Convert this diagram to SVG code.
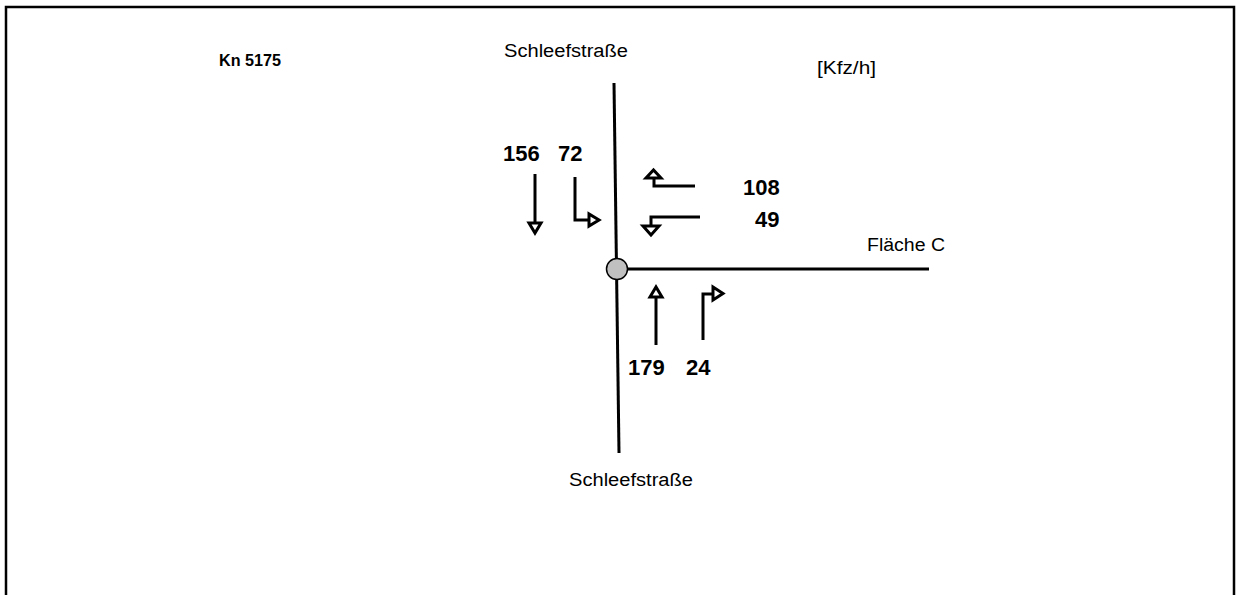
<svg xmlns="http://www.w3.org/2000/svg" width="1236" height="595" viewBox="0 0 1236 595">
<style>
.t{font-family:"Liberation Sans",Arial,sans-serif;font-size:18px;fill:#000}
.b{font-family:"Liberation Sans",Arial,sans-serif;font-size:22px;font-weight:bold;fill:#000}
.road{stroke:#000;stroke-width:3;fill:none}
.arr{stroke:#000;stroke-width:3;fill:none}
.head{stroke:#000;stroke-width:3;fill:#fff;stroke-linejoin:miter}
</style>
<rect width="1236" height="595" fill="#fff"/>
<path d="M6,596 V7 H1234 V596" fill="none" stroke="#000" stroke-width="2.5"/>
<text class="b" x="219" y="66" style="font-size:16px" textLength="62" lengthAdjust="spacingAndGlyphs">Kn 5175</text>
<text class="t" x="504" y="57" textLength="124" lengthAdjust="spacingAndGlyphs">Schleefstraße</text>
<text class="t" x="817" y="74" textLength="59" lengthAdjust="spacingAndGlyphs">[Kfz/h]</text>
<text class="t" x="867" y="251" textLength="78" lengthAdjust="spacingAndGlyphs">Fläche C</text>
<text class="t" x="569" y="486" textLength="124" lengthAdjust="spacingAndGlyphs">Schleefstraße</text>
<g id="roads">
<line class="road" x1="614" y1="83" x2="619" y2="453"/>
<line class="road" x1="627" y1="269" x2="929" y2="269"/>
</g>
<g id="node">
<circle cx="617" cy="269" r="10.5" fill="#c0c0c0" stroke="#000" stroke-width="1.5"/>
</g>
<g id="connectors">
<line class="arr" x1="535" y1="174" x2="535" y2="223"/>
<polygon class="head" points="529,223 541,223 535,233"/>
<polyline class="arr" points="575,177 575,220 589,220"/>
<polygon class="head" points="589,214 589,226 599,220"/>
<polyline class="arr" points="695,186 654,186 654,178"/>
<polygon class="head" points="646,178 661,178 653.5,170"/>
<polyline class="arr" points="700,217 651,217 651,226"/>
<polygon class="head" points="643,226 659,226 651,235"/>
<line class="arr" x1="656" y1="345" x2="656" y2="297"/>
<polygon class="head" points="650,297 662,297 656,287"/>
<polyline class="arr" points="703,340 703,294 713,294"/>
<polygon class="head" points="713,287 713,300 723,293.5"/>
</g>
<g id="labels">
<text class="b" x="503" y="161">156</text>
<text class="b" x="558" y="161">72</text>
<text class="b" x="743" y="195">108</text>
<text class="b" x="755" y="227">49</text>
<text class="b" x="628" y="375">179</text>
<text class="b" x="686" y="375">24</text>
</g>
</svg>
